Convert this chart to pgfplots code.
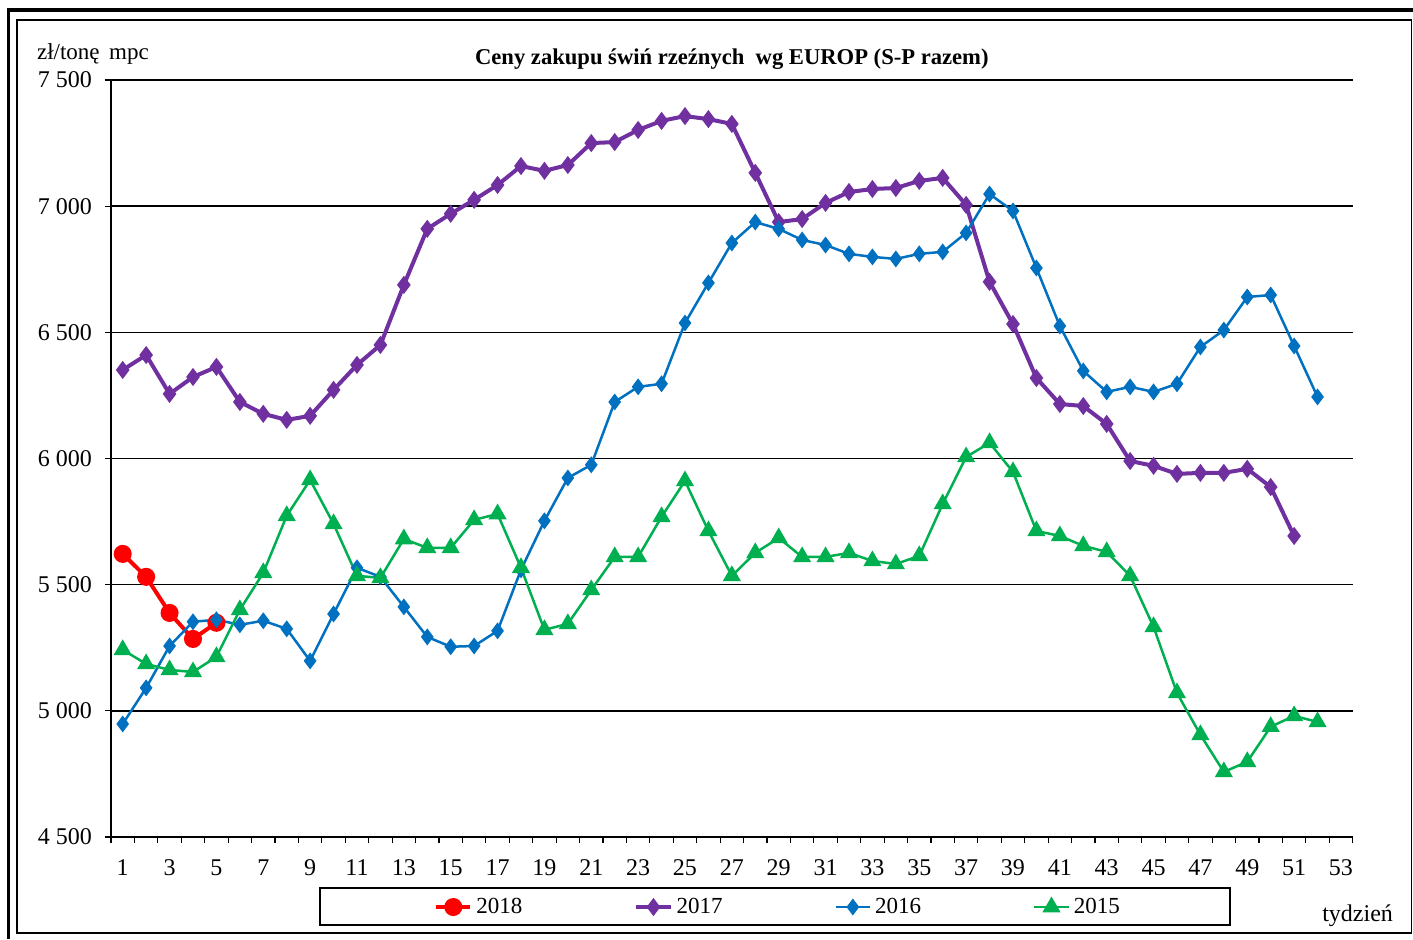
\documentclass[border=0pt]{standalone}
\usepackage{pgfplots}
\pgfplotsset{compat=1.18}
\usepackage{fontspec}
\setmainfont{Liberation Serif}
\definecolor{c2018}{HTML}{FF0000}
\definecolor{c2017}{HTML}{7030A0}
\definecolor{c2016}{HTML}{0070C0}
\definecolor{c2015}{HTML}{00B050}
\pgfplotstableread{
x y
1 5622
2 5531
3 5388
4 5285
5 5349
}\tA
\pgfplotstableread{
x y
1 6351
2 6410
3 6256
4 6323
5 6363
6 6224
7 6177
8 6153
9 6169
10 6272
11 6371
12 6450
13 6688
14 6910
15 6970
16 7025
17 7084
18 7159
19 7140
20 7163
21 7250
22 7254
23 7302
24 7338
25 7357
26 7345
27 7326
28 7132
29 6937
30 6949
31 7013
32 7056
33 7068
34 7072
35 7100
36 7112
37 7005
38 6700
39 6533
40 6319
41 6216
42 6208
43 6137
44 5990
45 5971
46 5939
47 5943
48 5943
49 5959
50 5887
51 5693
}\tB
\pgfplotstableread{
x y
1 4948
2 5091
3 5257
4 5353
5 5361
6 5341
7 5357
8 5325
9 5198
10 5384
11 5567
12 5531
13 5412
14 5293
15 5254
16 5257
17 5317
18 5559
19 5753
20 5923
21 5975
22 6224
23 6284
24 6296
25 6537
26 6696
27 6854
28 6937
29 6910
30 6866
31 6846
32 6811
33 6799
34 6791
35 6811
36 6819
37 6894
38 7048
39 6981
40 6755
41 6525
42 6347
43 6264
44 6284
45 6264
46 6296
47 6442
48 6509
49 6640
50 6648
51 6446
52 6244
}\tC
\pgfplotstableread{
x y
1 5242
2 5186
3 5162
4 5154
5 5214
6 5400
7 5547
8 5773
9 5915
10 5741
11 5535
12 5527
13 5681
14 5646
15 5646
16 5757
17 5780
18 5567
19 5321
20 5345
21 5479
22 5610
23 5610
24 5769
25 5911
26 5713
27 5535
28 5626
29 5685
30 5610
31 5610
32 5626
33 5594
34 5582
35 5614
36 5820
37 6006
38 6062
39 5947
40 5713
41 5693
42 5654
43 5630
44 5535
45 5333
46 5071
47 4905
48 4758
49 4798
50 4937
51 4980
52 4956
}\tD
\begin{document}
\begin{tikzpicture}
\path[use as bounding box] (0,0) rectangle (706.5pt,469.5pt);
\fill[black] (3.5pt,0pt) rectangle (5.2pt,465.5pt);
\fill[black] (3.5pt,463.6pt) rectangle (706.5pt,465.5pt);
\draw[line width=0.6pt] (8.5pt,3pt) rectangle (705.6pt,459.5pt);
\begin{axis}[
  at={(55.5pt,51pt)}, anchor=south west,
  scale only axis, width=620.85pt, height=378.5pt,
  xmin=0.5, xmax=53.5, ymin=4500, ymax=7500,
  axis x line*=bottom, axis y line*=left,
  axis line style={line width=0.6pt, black},
  ytick={4500,5000,...,7500},
  xtick={1,3,...,53},
  minor xtick={0.5,1.5,...,53.5},
  major x tick style={draw=none},
  tick style={black, line width=0.6pt},
  tick align=outside,
  major tick length=3pt, minor tick length=3pt,
  ymajorgrids, grid style={black, line width=0.7pt},
  /pgf/number format/.cd, 1000 sep={\,}, assume math mode=true, /pgfplots/.cd,
  yticklabel={\pgfmathprintnumber[1000 sep={\ }]{\tick}},
  ticklabel style={font=\fontsize{12}{14}\selectfont},
  xticklabel style={yshift=-5pt},
  yticklabel style={xshift=-3pt},
  legend columns=4,
  legend style={draw=none, fill=none, at={(0.538,-0.0925)}, anchor=center,
    font=\fontsize{11.5}{13}\selectfont,
    /tikz/every even column/.append style={column sep=54pt}},
  clip=false,
]
\addplot[c2018, line width=2pt, mark=*, mark size=3.5pt] table {\tA};
\addlegendentry{2018}
\addplot[c2017, line width=2pt, mark=diamond*, mark size=2.9pt] table {\tB};
\addlegendentry{2017}
\addplot[c2016, line width=1.25pt, mark=diamond*, mark size=3.2pt] table {\tC};
\addlegendentry{2016}
\addplot[c2015, line width=1.25pt, mark=triangle*, mark size=4pt] table {\tD};
\addlegendentry{2015}
\draw[line width=0.6pt] (axis description cs:0.1683,-0.0674) rectangle (axis description cs:0.9012,-0.1163);
\node[font=\bfseries\fontsize{11.3}{13}\selectfont] at (axis description cs:0.5,1.0277) {Ceny zakupu świń rzeźnych\ \ wg EUROP (S-P razem)};
\end{axis}
\node[anchor=west, font=\fontsize{11.5}{14}\selectfont] at (15pt,442.5pt) {zł/tonę\ \,mpc};
\node[anchor=east, font=\fontsize{12}{14}\selectfont] at (700pt,11.5pt) {tydzień};
\end{tikzpicture}
\end{document}
